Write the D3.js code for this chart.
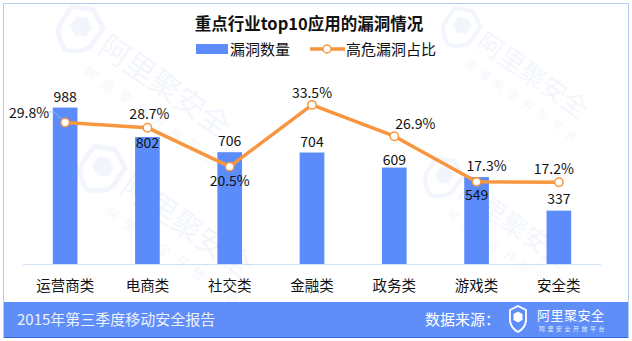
<!DOCTYPE html>
<html><head><meta charset="utf-8">
<script src="https://cdn.jsdelivr.net/npm/d3@7"></script>
<style>
html,body{margin:0;padding:0;background:#fff;}
svg{display:block;font-family:"Noto Sans CJK SC","Noto Sans",sans-serif;}
</style></head>
<body><svg id="chart" width="632" height="341"></svg>
<script>
// Industry categories and their values
const categories = ["运营商类","电商类","社交类","金融类","政务类","游戏类","安全类"];
const vulnCounts = [988, 802, 706, 704, 609, 549, 337];
const highRiskPct = [29.8, 28.7, 20.5, 33.5, 26.9, 17.3, 17.2];
const seriesNames = ["漏洞数量", "高危漏洞占比"];
const titleText = "重点行业top10应用的漏洞情况";
const footerLeft = "2015年第三季度移动安全报告";
const footerRight = "数据来源：";

const barColor = "#5b8cfa", lineColor = "#f7963f";
const svg = d3.select("#chart");

// outer frame
svg.append("rect").attr("x",3.5).attr("y",3.5).attr("width",625).attr("height",334)
  .attr("fill","#fff").attr("stroke","#b3cbf5").attr("stroke-width",1);

// faint background watermarks
const wmLayer = svg.append("g");
function watermark(x, y, s) {
  const g = wmLayer.append("g").attr("transform",`translate(${x},${y}) rotate(35) scale(${s})`)
    .attr("opacity",0.06).attr("fill","#3a6fd8").attr("stroke","#3a6fd8");
  g.append("path").attr("d","M-40,-28 L-20,-38 L0,-28 L0,-6 Q-2,6 -20,14 Q-38,6 -40,-6 Z")
    .attr("fill","none").attr("stroke-width",5);
  g.append("path").attr("d","M-30,-22 L-20,-27 L-10,-22 L-10,-10 L-20,-5 L-30,-10 Z").attr("stroke","none");
  g.append("text").attr("x",8).attr("y",-4).attr("stroke","none")
    .attr("font-size",32).text("阿里聚安全");
  g.append("text").attr("x",10).attr("y",24).attr("stroke","none")
    .attr("font-size",14).attr("letter-spacing",8).text("阿里安全开放平台");
}
watermark(88, 50, 0.95);
watermark(468, 45, 0.8);
watermark(110, 190, 0.95);
watermark(450, 195, 0.8);

// plot area
const margin = {left:24, right:32, top:74, bottom:77};
const W = 632, H = 341;
const x = d3.scaleBand().domain(categories).range([margin.left, W-margin.right]).paddingInner(0.7).paddingOuter(0.35);
const y = d3.scaleLinear().domain([0,1200]).range([H-margin.bottom, margin.top]);
const y2 = d3.scaleLinear().domain([0,40]).range([H-margin.bottom, margin.top]);

// title
svg.append("text").attr("x",309).attr("y",30).attr("text-anchor","middle")
  .attr("font-size",16.5).attr("font-weight","bold").attr("fill","#111").text(titleText);

// legend
const lg = svg.append("g");
lg.append("rect").attr("x",196).attr("y",44).attr("width",32).attr("height",10).attr("fill",barColor);
lg.append("text").attr("x",230).attr("y",55).attr("font-size",15).attr("fill","#111").text(seriesNames[0]);
lg.append("line").attr("x1",310).attr("x2",345).attr("y1",49).attr("y2",49)
  .attr("stroke",lineColor).attr("stroke-width",3.5);
lg.append("circle").attr("cx",327).attr("cy",49).attr("r",4).attr("fill","#fff")
  .attr("stroke",lineColor).attr("stroke-width",1.5);
lg.append("text").attr("x",346).attr("y",55).attr("font-size",15).attr("fill","#111").text(seriesNames[1]);

// bars
svg.append("g").selectAll("rect").data(categories).join("rect")
  .attr("x",d=>x(d)).attr("width",x.bandwidth())
  .attr("y",(d,i)=>y(vulnCounts[i])).attr("height",(d,i)=>y(0)-y(vulnCounts[i]))
  .attr("fill",barColor);

// category axis
const xAxis = svg.append("g").attr("transform",`translate(0,${y(0)})`)
  .call(d3.axisBottom(x).tickSize(0).tickPadding(17));
xAxis.select(".domain").attr("stroke","#cfe0f7").attr("d",`M${margin.left-1},0.5H${W-margin.right+1}`);
xAxis.selectAll("text").attr("font-size",14.5).attr("fill","#111")
  .attr("font-family","'Noto Sans CJK SC',sans-serif");

// bar value labels: dy offset relative to the bar top (negative = above)
const countOffsets = [-11, 6, -11, -11, -8, 18, -12];
svg.append("g").selectAll("text").data(categories).join("text")
  .attr("x",d=>x(d)+x.bandwidth()/2)
  .attr("y",(d,i)=>y(vulnCounts[i])+countOffsets[i]+5)
  .attr("text-anchor","middle").attr("font-size",14).attr("fill","#111")
  .text((d,i)=>vulnCounts[i]);

// line series
const cx = d=>x(d)+x.bandwidth()/2;
const pts = categories.map((c,i)=>[cx(c), y2(highRiskPct[i])]);
svg.append("path").attr("d",d3.line()(pts)).attr("fill","none")
  .attr("stroke",lineColor).attr("stroke-width",3.5).attr("stroke-linejoin","round");

// leader line for the first percentage label
svg.append("polyline")
  .attr("points",`47,112 54,112 ${pts[0][0]},${pts[0][1]}`)
  .attr("fill","none").attr("stroke","#a6bbe0").attr("stroke-width",0.8);

svg.append("g").selectAll("circle").data(pts).join("circle")
  .attr("cx",d=>d[0]).attr("cy",d=>d[1]).attr("r",4.2)
  .attr("fill","#fff").attr("stroke",lineColor).attr("stroke-width",1.5);

// percentage labels: offsets relative to each point
const pctOffsets = [[-36,-9],[2,-14],[0,14],[0,-12],[21,-12],[10,-16],[-5,-13]];
svg.append("g").selectAll("text").data(pts).join("text")
  .attr("x",(d,i)=>d[0]+pctOffsets[i][0]).attr("y",(d,i)=>d[1]+pctOffsets[i][1]+5)
  .attr("text-anchor","middle").attr("font-size",14).attr("fill","#111")
  .text((d,i)=>highRiskPct[i].toFixed(1)+"%");

// footer band
svg.append("rect").attr("x",4).attr("y",302).attr("width",624).attr("height",35).attr("fill","#5f8ef8");
svg.append("line").attr("x1",4).attr("x2",628).attr("y1",337.5).attr("y2",337.5).attr("stroke","#2f63d6");
svg.append("text").attr("x",17).attr("y",325).attr("font-size",15).attr("fill","#eef2fb").text(footerLeft);
svg.append("text").attr("x",425).attr("y",325).attr("font-size",15).attr("fill","#fff").text(footerRight);

// footer logo
const logo = svg.append("g").attr("transform","translate(518,320)");
logo.append("path").attr("d","M-8,-10 L0,-14 L8,-10 L8,1 Q7,8 0,12 Q-7,8 -8,1 Z")
  .attr("fill","none").attr("stroke","#fff").attr("stroke-width",1.8);
logo.append("path").attr("d","M-4.5,-6 L0,-8.5 L4.5,-6 L4.5,0 L0,2.5 L-4.5,0 Z").attr("fill","#fff");
svg.append("text").attr("x",537).attr("y",320).attr("font-size",13).attr("fill","#fff")
  .attr("letter-spacing",0.5).text("阿里聚安全");
svg.append("text").attr("x",539).attr("y",331).attr("font-size",6).attr("fill","#e8eefc")
  .attr("letter-spacing",2.5).text("阿里安全开放平台");
</script></body></html>
